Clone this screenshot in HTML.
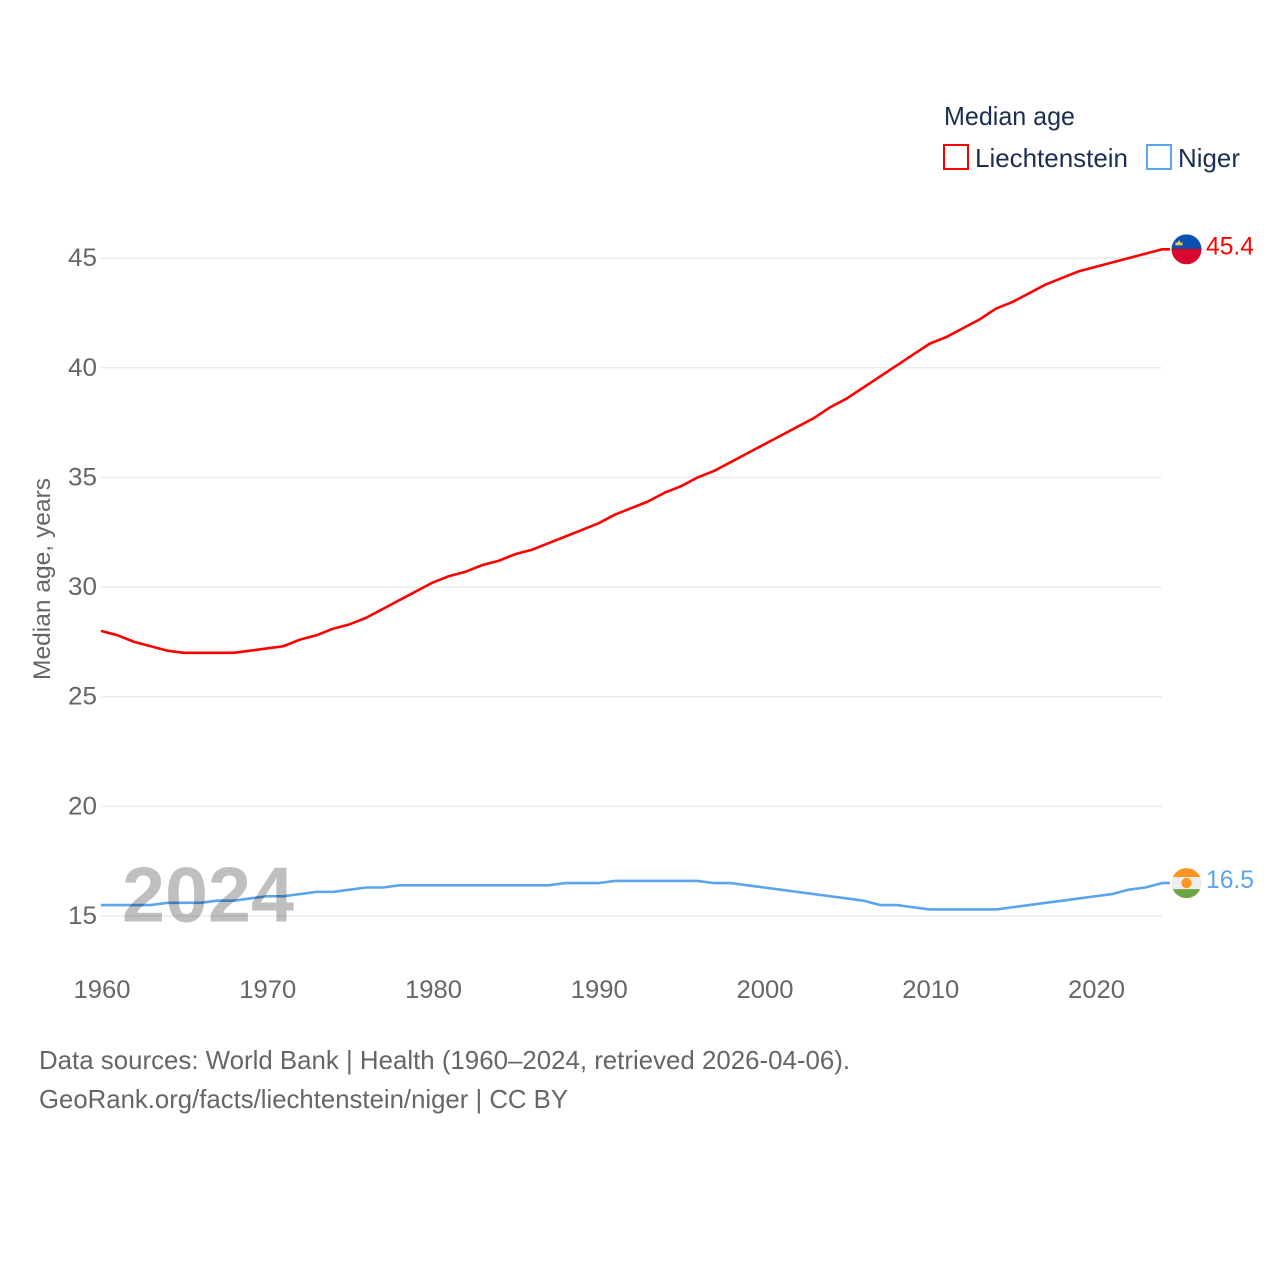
<!DOCTYPE html>
<html lang="en">
<head>
<meta charset="utf-8">
<title>Median age: Liechtenstein and Niger</title>
<style>
html,body{margin:0;padding:0;background:#fff;}
svg{display:block;font-family:"Liberation Sans",sans-serif;}
</style>
</head>
<body>
<svg id="chart" xmlns="http://www.w3.org/2000/svg" width="1280" height="1280" viewBox="0 0 1280 1280">
  <rect width="1280" height="1280" fill="#ffffff"/>
  <g id="grid"></g>
  <g id="yticks"></g>
  <g id="xticks"></g>
  <text transform="translate(50,680) rotate(-90)" font-size="24.5" fill="#666666" textLength="202" lengthAdjust="spacingAndGlyphs">Median age, years</text>

  <polyline id="line-niger" fill="none" stroke="#5ba4ee" stroke-width="2.6" stroke-linejoin="round"/>
  <polyline id="line-liechtenstein" fill="none" stroke="#ff0000" stroke-width="2.6" stroke-linejoin="round"/>

  <text x="122" y="921.5" font-size="78" font-weight="700" fill="#000000" fill-opacity="0.25" textLength="172" lengthAdjust="spacingAndGlyphs">2024</text>

  <defs>
    <clipPath id="flag-clip"><circle cx="0" cy="0" r="15"/></clipPath>
  </defs>
  <g id="flag-liechtenstein" clip-path="url(#flag-clip)">
    <rect x="-15" y="-15" width="30" height="15" fill="#0a50ae"/>
    <rect x="-15" y="0" width="30" height="15" fill="#d8082e"/>
    <rect x="-15" y="-1" width="30" height="1.4" fill="#8a1f3f"/>
    <path d="M-11-4 h7 v-3.5 l-1.6 1.2 -1.9-3 -1.9 3 -1.6-1.2 z" fill="#f2c654"/>
  </g>
  <g id="flag-niger" clip-path="url(#flag-clip)">
    <rect x="-15" y="-15" width="30" height="9" fill="#ff9420"/>
    <rect x="-15" y="-6" width="30" height="12" fill="#eeeeee"/>
    <rect x="-15" y="6" width="30" height="9" fill="#6da544"/>
    <circle cx="0" cy="0" r="5.2" fill="#ff9420"/>
  </g>
  <text id="value-liechtenstein" x="1206" font-size="25" fill="#ff0000" textLength="48" lengthAdjust="spacingAndGlyphs"></text>
  <text id="value-niger" x="1206" font-size="25" fill="#5ba4ee" textLength="48" lengthAdjust="spacingAndGlyphs"></text>

  <g>
    <text x="944" y="125" font-size="26" fill="#1b2f50" textLength="131" lengthAdjust="spacingAndGlyphs">Median age</text>
    <g>
      <rect x="944" y="145" width="24" height="24" fill="none" stroke="#ff0000" stroke-width="2"/>
      <text x="975" y="167" font-size="26" fill="#1b2f50" textLength="153" lengthAdjust="spacingAndGlyphs">Liechtenstein</text>
    </g>
    <g>
      <rect x="1147" y="145" width="24" height="24" fill="none" stroke="#5ba4ee" stroke-width="2"/>
      <text x="1178" y="167" font-size="26" fill="#1b2f50" textLength="62" lengthAdjust="spacingAndGlyphs">Niger</text>
    </g>
  </g>

  <text x="39" y="1069" font-size="26" fill="#666666" textLength="811" lengthAdjust="spacingAndGlyphs">Data sources: World Bank | Health (1960–2024, retrieved 2026-04-06).</text>
  <text x="39" y="1108" font-size="26" fill="#666666" textLength="529" lengthAdjust="spacingAndGlyphs">GeoRank.org/facts/liechtenstein/niger | CC BY</text>
</svg>
<script>
const startYear = 1960;
const yTickValues = [15, 20, 25, 30, 35, 40, 45];
const xTickValues = [1960, 1970, 1980, 1990, 2000, 2010, 2020];
const liechtensteinValues = [28.0,27.8,27.5,27.3,27.1,27.0,27.0,27.0,27.0,27.1,27.2,27.3,27.6,27.8,28.1,28.3,28.6,29.0,29.4,29.8,30.2,30.5,30.7,31.0,31.2,31.5,31.7,32.0,32.3,32.6,32.9,33.3,33.6,33.9,34.3,34.6,35.0,35.3,35.7,36.1,36.5,36.9,37.3,37.7,38.2,38.6,39.1,39.6,40.1,40.6,41.1,41.4,41.8,42.2,42.7,43.0,43.4,43.8,44.1,44.4,44.6,44.8,45.0,45.2,45.4];
const nigerValues = [15.5,15.5,15.5,15.5,15.6,15.6,15.6,15.7,15.7,15.8,15.9,15.9,16.0,16.1,16.1,16.2,16.3,16.3,16.4,16.4,16.4,16.4,16.4,16.4,16.4,16.4,16.4,16.4,16.5,16.5,16.5,16.6,16.6,16.6,16.6,16.6,16.6,16.5,16.5,16.4,16.3,16.2,16.1,16.0,15.9,15.8,15.7,15.5,15.5,15.4,15.3,15.3,15.3,15.3,15.3,15.4,15.5,15.6,15.7,15.8,15.9,16.0,16.2,16.3,16.5];

const NS = 'http://www.w3.org/2000/svg';
function xScale(year) { return 101 + (year - 1960) * 16.575; }
function yScale(value) { return 916 - (value - 15) * 21.93; }

const gridGroup = document.getElementById('grid');
const yGroup = document.getElementById('yticks');
const xGroup = document.getElementById('xticks');

yTickValues.forEach(function (tick) {
  const line = document.createElementNS(NS, 'line');
  
  
  line.setAttribute('x1', xScale(1960));
  line.setAttribute('x2', xScale(2024));
  line.setAttribute('y1', yScale(tick));
  line.setAttribute('y2', yScale(tick));
  line.setAttribute('stroke', '#ececec');
  line.setAttribute('stroke-width', '1.5');
  gridGroup.appendChild(line);

  const label = document.createElementNS(NS, 'text');
  
  
  label.setAttribute('x', 68);
  label.setAttribute('y', yScale(tick) + 8);
  label.setAttribute('font-size', '25');
  label.setAttribute('fill', '#666666');
  label.setAttribute('textLength', '29');
  label.setAttribute('lengthAdjust', 'spacingAndGlyphs');
  label.textContent = String(tick);
  yGroup.appendChild(label);
});

xTickValues.forEach(function (tick) {
  const label = document.createElementNS(NS, 'text');
  
  
  label.setAttribute('x', xScale(tick) - 27.5);
  label.setAttribute('y', 998);
  label.setAttribute('font-size', '25');
  label.setAttribute('fill', '#666666');
  label.setAttribute('textLength', '57');
  label.setAttribute('lengthAdjust', 'spacingAndGlyphs');
  label.textContent = String(tick);
  xGroup.appendChild(label);
});

function seriesPoints(values) {
  const pts = values.map(function (v, i) {
    return xScale(startYear + i).toFixed(2) + ',' + yScale(v).toFixed(2);
  });
  pts.push('1170,' + yScale(values[values.length - 1]).toFixed(2));
  return pts.join(' ');
}

function placeEnd(values, flagId, labelId) {
  const last = values[values.length - 1];
  const y = yScale(last);
  document.getElementById(flagId).setAttribute('transform', 'translate(1186.5,' + y.toFixed(2) + ')');
  const label = document.getElementById(labelId);
  label.setAttribute('y', (y + 5).toFixed(2));
  label.textContent = last.toFixed(1);
}

document.getElementById('line-liechtenstein').setAttribute('points', seriesPoints(liechtensteinValues));
document.getElementById('line-niger').setAttribute('points', seriesPoints(nigerValues));
placeEnd(liechtensteinValues, 'flag-liechtenstein', 'value-liechtenstein');
placeEnd(nigerValues, 'flag-niger', 'value-niger');
</script>
</body>
</html>
